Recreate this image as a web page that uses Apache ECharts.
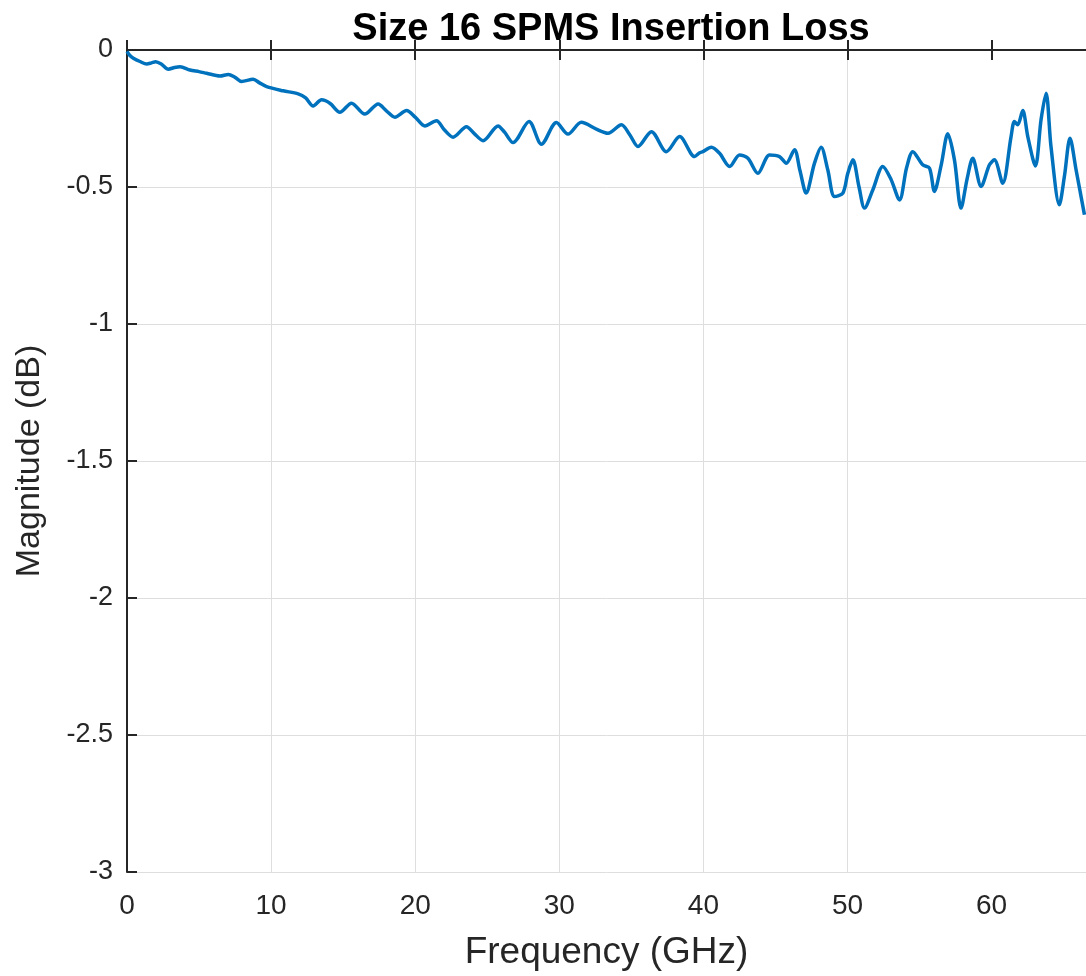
<!DOCTYPE html>
<html>
<head>
<meta charset="utf-8">
<script src="https://cdn.jsdelivr.net/npm/echarts@6/dist/echarts.min.js"></script>
<style>
html,body{margin:0;padding:0;background:#fff;}
#chart{width:1086px;height:976px;}
</style>
</head>
<body>
<div id="chart"></div>
<script>
const titleText = "Size 16 SPMS Insertion Loss";
const xName = "Frequency (GHz)";
const yName = "Magnitude (dB)";
const xTicks = [0, 10, 20, 30, 40, 50, 60];
const yTicks = [0, -0.5, -1, -1.5, -2, -2.5, -3];

const freq = [0, 0.2, 0.44, 0.9, 1.37, 1.7, 1.99, 2.4, 2.87, 3.3, 3.68, 4.37, 5.0, 5.53, 6.45, 7.03, 7.5, 7.95, 8.76, 9.2, 9.69, 10.84, 11.88, 12.4, 12.92, 13.5,
  14.1, 14.77, 15.58, 16.5, 17.43, 18.0, 18.59, 19.4, 20.0, 20.67, 21.48, 22.0, 22.63, 23.56, 24.1, 24.71, 25.75, 26.2, 26.79, 27.9, 28.76, 29.8,
  30.6, 31.53, 32.57, 33.38, 34.31, 34.9, 35.46, 36.39, 37.43, 38.35, 39.39, 39.74, 39.97, 40.55, 41.12, 41.82, 42.51, 43.09, 43.78, 44.59, 45.28,
  45.75, 46.32, 46.7, 47.13, 47.71, 48.17, 48.63, 49.1, 49.68, 50.02, 50.37, 50.8, 51.18, 51.76, 52.45, 53.0, 53.61, 54.1, 54.53, 55.22, 55.69,
  56.03, 56.5, 56.96, 57.42, 57.88, 58.3, 58.69, 59.27, 59.85, 60.19, 60.77, 61.35, 61.58, 61.81, 62.16, 62.51, 63.04, 63.43, 63.78, 64.12,
  64.7, 65.05, 65.44, 65.86, 66.44];
const magnitude = [-0.005, -0.02, -0.03, -0.042, -0.051, -0.047, -0.043, -0.052, -0.07, -0.064, -0.061, -0.073, -0.079, -0.085, -0.095, -0.089, -0.1, -0.115, -0.107, -0.12, -0.134, -0.149, -0.16, -0.175, -0.204, -0.182,
  -0.195, -0.227, -0.194, -0.234, -0.197, -0.222, -0.245, -0.221, -0.245, -0.277, -0.258, -0.29, -0.318, -0.28, -0.305, -0.331, -0.277, -0.3, -0.338, -0.261, -0.344, -0.265,
  -0.307, -0.264, -0.289, -0.304, -0.273, -0.31, -0.352, -0.298, -0.371, -0.316, -0.389, -0.375, -0.371, -0.355, -0.377, -0.425, -0.383, -0.395, -0.45, -0.383, -0.389,
  -0.413, -0.364, -0.44, -0.522, -0.413, -0.355, -0.437, -0.535, -0.522, -0.45, -0.401, -0.5, -0.577, -0.51, -0.425, -0.47, -0.547, -0.43, -0.371, -0.419, -0.431,
  -0.516, -0.42, -0.306, -0.401, -0.577, -0.47, -0.395, -0.498, -0.419, -0.401, -0.486, -0.316, -0.261, -0.273, -0.221, -0.316, -0.423, -0.255, -0.158, -0.352,
  -0.565, -0.462, -0.322, -0.437, -0.601];

const data = freq.map((f, i) => [f, magnitude[i]]);
const fontFam = '"Liberation Sans", Arial, Helvetica, sans-serif';
const axisColor = '#262626';

const chart = echarts.init(document.getElementById('chart'));
chart.setOption({
  animation: false,
  backgroundColor: '#ffffff',
  title: {
    text: titleText,
    left: 606, top: 6, textAlign: 'center',
    textStyle: { fontFamily: fontFam, fontSize: 38, fontWeight: 'bold', color: '#000' }
  },
  grid: { left: 127, top: 50, right: 0, bottom: 103, containLabel: false },
  xAxis: [{
    type: 'value', min: 0, max: 66.55, interval: 10,
    name: xName, nameLocation: 'middle', nameGap: 62,
    nameTextStyle: { fontFamily: fontFam, fontSize: 37, color: axisColor },
    axisLine: { show: true, lineStyle: { color: axisColor, width: 2 } },
    axisTick: { show: true, inside: true, length: 10, customValues: xTicks, lineStyle: { color: axisColor, width: 2 } },
    axisLabel: { margin: 20, fontFamily: fontFam, fontSize: 28, color: axisColor, customValues: xTicks,
      formatter: v => String(v) },
    splitLine: { show: true, showMaxLine: false, lineStyle: { color: '#dedede', width: 1 } }
  }, {
    type: 'value', position: 'top', min: 0, max: 66.55, interval: 10,
    axisLine: { show: true, lineStyle: { color: axisColor, width: 2 } },
    axisTick: { show: true, inside: true, length: 10, customValues: xTicks, lineStyle: { color: axisColor, width: 2 } },
    axisLabel: { show: false }, splitLine: { show: false }
  }],
  yAxis: {
    type: 'value', min: -3, max: 0, interval: 0.5,
    name: yName, nameLocation: 'middle', nameGap: 80, nameRotate: 90,
    nameTextStyle: { fontFamily: fontFam, fontSize: 34, color: axisColor },
    axisLine: { show: true, lineStyle: { color: axisColor, width: 2 } },
    axisTick: { show: true, inside: true, length: 10, lineStyle: { color: axisColor, width: 2 } },
    axisLabel: { margin: 14, fontFamily: fontFam, fontSize: 27, color: axisColor,
      formatter: v => (yTicks.indexOf(v) >= 0 ? String(v) : '') },
    splitLine: { show: true, lineStyle: { color: '#dedede', width: 1 } }
  },
  series: [{
    type: 'line', data: data, showSymbol: false, symbol: 'none', smooth: 0.3,
    lineStyle: { color: '#0072BD', width: 3.5 }, clip: true, z: 3
  }]
});
</script>
</body>
</html>
